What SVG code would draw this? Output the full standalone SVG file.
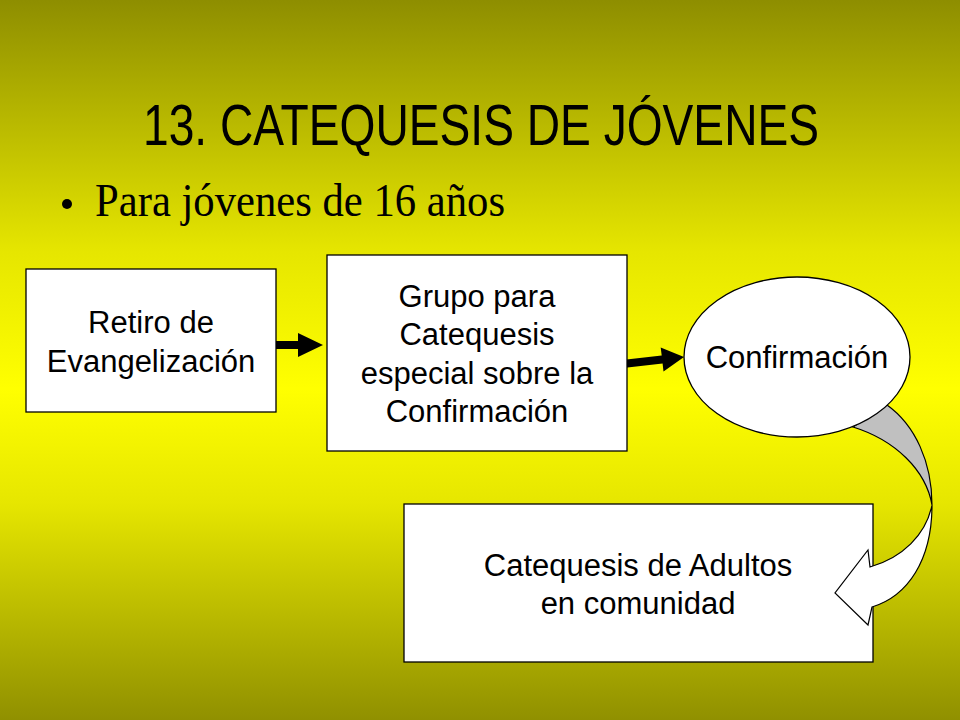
<svg xmlns="http://www.w3.org/2000/svg" width="960" height="720" viewBox="0 0 960 720">
<defs>
<linearGradient id="bg" x1="0" y1="0" x2="0" y2="1">
<stop offset="0" stop-color="#8e8e00"/>
<stop offset="0.35" stop-color="#e6e600"/>
<stop offset="0.54" stop-color="#ffff00"/>
<stop offset="0.7" stop-color="#e6e600"/>
<stop offset="1" stop-color="#909000"/>
</linearGradient>
<style>
.box{fill:#ffffff;stroke:#000000;stroke-width:1.3}
.lbl{font-family:"Liberation Sans",Arial,sans-serif;font-size:31px;fill:#000000;text-anchor:middle}
.conn{fill:#000000;stroke:none}
</style>
</defs>
<rect x="0" y="0" width="960" height="720" fill="url(#bg)"/>
<text x="143" y="145" font-family="'Liberation Sans',Arial,sans-serif" font-size="57" fill="#000" textLength="676" lengthAdjust="spacingAndGlyphs">13. CATEQUESIS DE JÓVENES</text>
<circle cx="67" cy="204" r="5" fill="#000"/>
<text x="95" y="216" font-family="'Liberation Serif','Times New Roman',serif" font-size="46" fill="#000" textLength="410" lengthAdjust="spacingAndGlyphs">Para jóvenes de 16 años</text>

<g id="node-adultos">
<rect class="box" x="404" y="504" width="469" height="158"/>
<text class="lbl" x="638" y="576">Catequesis de Adultos</text>
<text class="lbl" x="638" y="614">en comunidad</text>
</g>

<g id="connectors">
<path class="conn" d="M263,341 L298,341 L298,333 L323,345 L298,357 L298,349 L263,349 Z"/>
<path class="conn" d="M604.5,362 L661.7,355.5 L660.7,347.6 L684,357 L663.5,371.4 L662.6,363.5 L605.5,370 Z"/>
<path id="curved-gray" d="M887,405 C915,425 932,462 932,505 C926,470 895,440 853,427 Z" fill="#c0c0c0" stroke="#000" stroke-width="1.2"/>
<path id="curved-white" d="M932,505 C926,535 902,558 870,567 L868,550 L835,593 L868,625 L872,607 C908,596 932,560 932,505 Z" fill="#ffffff" stroke="#000" stroke-width="1.2"/>
</g>

<g id="node-retiro">
<rect class="box" x="26" y="269" width="250" height="143"/>
<text class="lbl" x="151" y="333">Retiro de</text>
<text class="lbl" x="151" y="372">Evangelización</text>
</g>
<g id="node-grupo">
<rect class="box" x="327" y="255" width="300" height="196"/>
<text class="lbl" x="477" y="307">Grupo para</text>
<text class="lbl" x="477" y="345">Catequesis</text>
<text class="lbl" x="477" y="384">especial sobre la</text>
<text class="lbl" x="477" y="422">Confirmación</text>
</g>
<g id="node-confirmacion">
<ellipse class="box" cx="797" cy="357" rx="113" ry="80"/>
<text class="lbl" x="797" y="368">Confirmación</text>
</g>
</svg>
